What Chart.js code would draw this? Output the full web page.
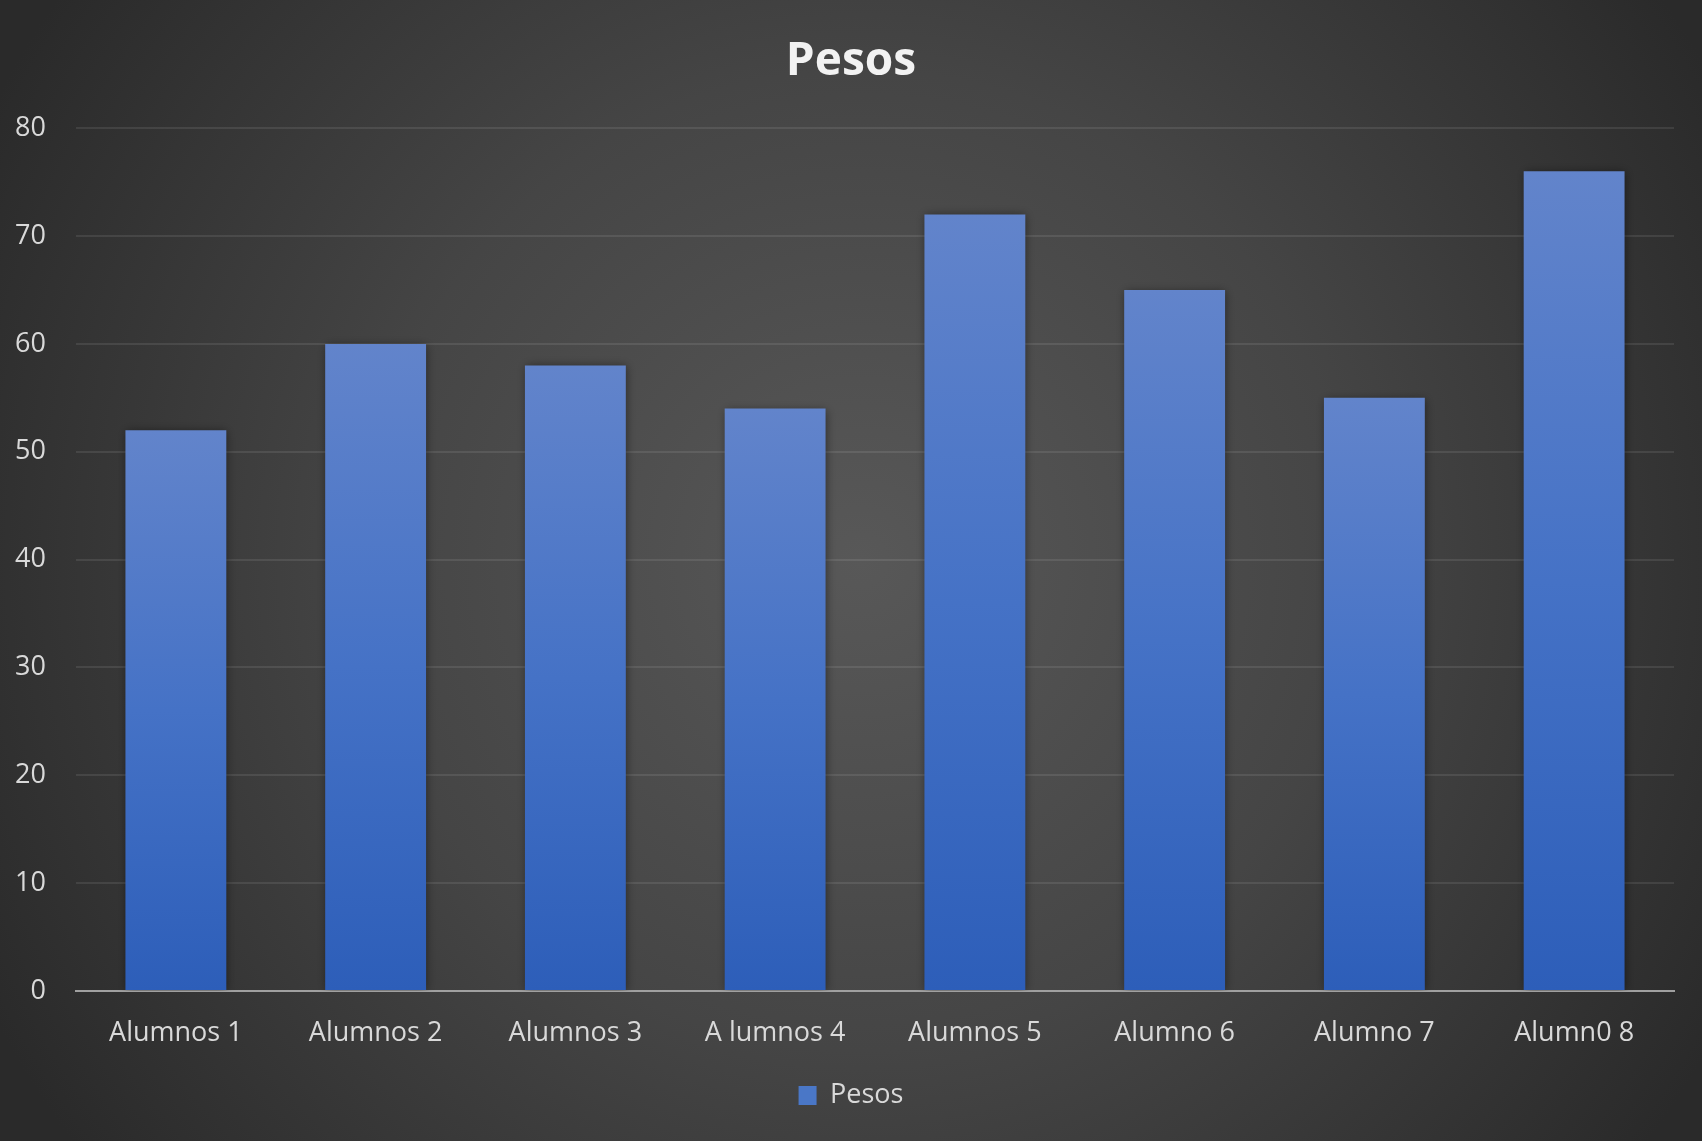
<!DOCTYPE html>
<html>
<head>
  <meta charset="UTF-8">
  <title>Pesos</title>
  <script src="https://cdn.jsdelivr.net/npm/chart.js"></script>
  <style>
    html, body { margin: 0; padding: 0; background: #2a2a2a; }
    canvas { display: block; }
  </style>
</head>
<body>
  <canvas id="chart" width="1702" height="1141"></canvas>
  <script>
    const alumnos = ["Alumnos 1", "Alumnos 2", "Alumnos 3", "A lumnos 4", "Alumnos 5", "Alumno 6", "Alumno 7", "Alumn0 8"];
    const pesos = [52, 60, 58, 54, 72, 65, 55, 76];
    const yTicks = [0, 10, 20, 30, 40, 50, 60, 70, 80];

    const FONT = "'Open Sans', 'Noto Sans', sans-serif";
    const TEXT = "#d9d9d9";

    // dark radial background, lighter in the middle
    const backdrop = {
      id: "backdrop",
      beforeDraw(chart) {
        const { ctx, width, height } = chart;
        const g = ctx.createRadialGradient(860, 560, 0, 860, 560, 980);
        g.addColorStop(0, "#585858");
        g.addColorStop(0.5, "#454545");
        g.addColorStop(1, "#2a2a2a");
        ctx.save();
        ctx.fillStyle = g;
        ctx.fillRect(0, 0, width, height);
        ctx.restore();
      }
    };

    // soft shadow around the bars
    const barShadow = {
      id: "barShadow",
      beforeDatasetsDraw(chart) {
        const ctx = chart.ctx;
        ctx.save();
        ctx.shadowColor = "rgba(0,0,0,0.45)";
        ctx.shadowBlur = 9;
        ctx.shadowOffsetX = 1;
        ctx.shadowOffsetY = 1;
      },
      afterDatasetsDraw(chart) {
        chart.ctx.restore();
      }
    };

    function barFill(context) {
      const chart = context.chart;
      const y = chart.scales && chart.scales.y;
      if (!y || context.type !== "data") return "#4472c4";
      const top = y.getPixelForValue(context.parsed.y);
      const base = y.getPixelForValue(0);
      const g = chart.ctx.createLinearGradient(0, top, 0, base);
      g.addColorStop(0, "#6284cb");
      g.addColorStop(0.5, "#4572c6");
      g.addColorStop(1, "#2d5eb9");
      return g;
    }

    new Chart(document.getElementById("chart"), {
      type: "bar",
      data: {
        labels: alumnos,
        datasets: [{
          label: "Pesos",
          data: pesos,
          backgroundColor: barFill,
          borderWidth: 0,
          categoryPercentage: 1,
          barPercentage: 0.505
        }]
      },
      options: {
        responsive: false,
        animation: false,
        layout: { padding: { left: 0, right: 0, top: 0, bottom: 22 } },
        plugins: {
          title: {
            display: true,
            text: "Pesos",
            color: "#f2f2f2",
            font: { family: FONT, size: 46, weight: "bold" },
            padding: { top: 34, bottom: 39 }
          },
          legend: {
            position: "bottom",
            labels: {
              color: TEXT,
              font: { family: FONT, size: 27 },
              boxWidth: 18,
              boxHeight: 19,
              padding: 10,
              generateLabels(chart) {
                return [{ text: "Pesos", fillStyle: "#4a77c7", strokeStyle: "#4a77c7", lineWidth: 0, fontColor: TEXT, datasetIndex: 0 }];
              }
            }
          },
          tooltip: { enabled: false }
        },
        scales: {
          x: {
            grid: { display: false, drawTicks: false },
            border: { display: true, color: "#a0a0a0", width: 2 },
            ticks: { color: TEXT, font: { family: FONT, size: 27 }, padding: 26, maxRotation: 0 },
            afterFit(scale) { scale.height = 81; }
          },
          y: {
            min: 0,
            max: 80,
            afterBuildTicks(scale) { scale.ticks = yTicks.map(v => ({ value: v })); },
            grid: { color: "rgba(255,255,255,0.09)", lineWidth: 2, drawTicks: false },
            border: { display: false },
            ticks: { color: TEXT, font: { family: FONT, size: 27 }, padding: 30 },
            afterFit(scale) { scale.width = 76; }
          },
          // empty right-hand margin so the title and legend stay centred on the canvas
          margin: {
            position: "right",
            min: 0,
            max: 80,
            grid: { display: false, drawTicks: false },
            border: { display: false },
            ticks: { display: false },
            afterFit(scale) { scale.width = 28; }
          }
        }
      },
      plugins: [backdrop, barShadow]
    });
  </script>
</body>
</html>
